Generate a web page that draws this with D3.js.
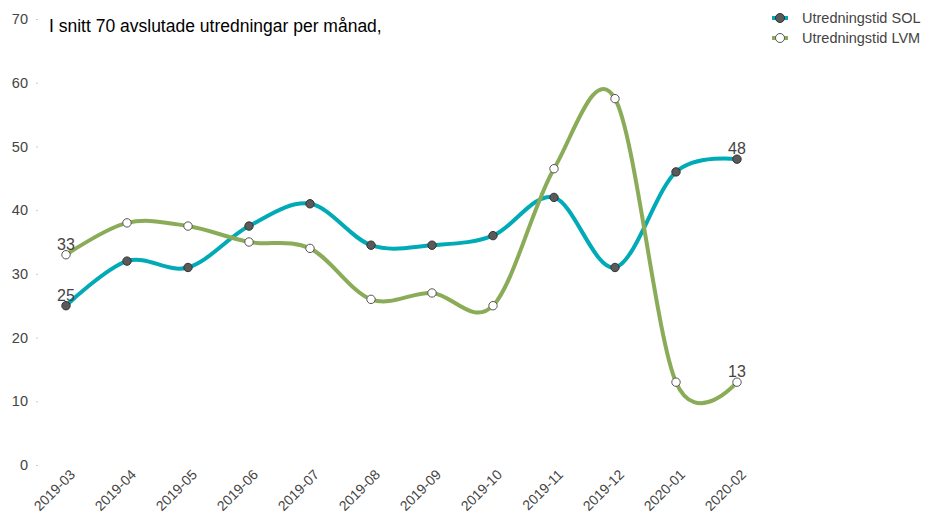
<!DOCTYPE html>
<html>
<head>
<meta charset="utf-8">
<script src="https://cdn.jsdelivr.net/npm/d3@7"></script>
<style>
  body { margin: 0; background: #fff; }
  svg { font-family: "Liberation Sans", Arial, sans-serif; }
</style>
</head>
<body>
<div id="chart"></div>
<script>
// data
const manader = ["2019-03","2019-04","2019-05","2019-06","2019-07","2019-08",
                 "2019-09","2019-10","2019-11","2019-12","2020-01","2020-02"];
const sol = [25, 32, 31, 37.5, 41, 34.5, 34.5, 36, 42, 31, 46, 48];
const lvm = [33, 38, 37.5, 35, 34, 26, 27, 25, 46.5, 57.5, 13, 13];
const yTicks = [0, 10, 20, 30, 40, 50, 60, 70];
const titel = "I snitt 70 avslutade utredningar per månad,";

const serier = [
  { namn: "Utredningstid SOL", varden: sol, farg: "#00aab6", fyll: "#5a5a5a", kant: "#333" },
  { namn: "Utredningstid LVM", varden: lvm, farg: "#8aac58", fyll: "#fff", kant: "#555" }
];

const bredd = 935, hojd = 517;
const margin = { top: 19, right: 198, bottom: 52, left: 66 };

const svg = d3.select("#chart").append("svg")
  .attr("width", bredd).attr("height", hojd)
  .attr("viewBox", [0, 0, bredd, hojd]);

const x = d3.scalePoint(manader, [margin.left, bredd - margin.right]);
const y = d3.scaleLinear([0, 70], [hojd - margin.bottom, margin.top]);

// y-axel
svg.append("g")
  .attr("transform", `translate(38,0)`)
  .call(d3.axisLeft(y).tickValues(yTicks).tickSize(2).tickPadding(8))
  .call(g => g.select(".domain").remove())
  .call(g => g.selectAll(".tick line").attr("stroke", "#ccc"))
  .call(g => g.selectAll(".tick text").attr("fill", "#444").attr("font-size", 14.5));

// x-axel
svg.append("g")
  .attr("transform", `translate(0,${hojd - margin.bottom})`)
  .call(d3.axisBottom(x).tickSize(0).tickPadding(0))
  .call(g => g.select(".domain").remove())
  .call(g => g.selectAll(".tick text")
    .attr("fill", "#444")
    .attr("font-size", 14)
    .attr("text-anchor", "end")
    .attr("y", 0)
    .attr("dy", "0.35em")
    .attr("transform", "translate(6,7) rotate(-45)"));

// linjer
const linje = d3.line()
  .x((d, i) => x(manader[i]))
  .y(d => y(d))
  .curve(d3.curveCardinal.tension(0));

serier.forEach(s => {
  svg.append("path")
    .attr("d", linje(s.varden))
    .attr("fill", "none")
    .attr("stroke", s.farg)
    .attr("stroke-width", 4)
    .attr("stroke-linejoin", "round");
});

serier.forEach(s => {
  svg.append("g")
    .selectAll("circle")
    .data(s.varden)
    .join("circle")
      .attr("cx", (d, i) => x(manader[i]))
      .attr("cy", d => y(d))
      .attr("r", 4.2)
      .attr("fill", s.fyll)
      .attr("stroke", s.kant)
      .attr("stroke-width", 1);

  // etiketter forsta och sista punkt
  const sista = s.varden.length - 1;
  svg.append("g")
    .attr("fill", "#444")
    .attr("font-size", 16)
    .attr("text-anchor", "middle")
    .selectAll("text")
    .data([0, sista])
    .join("text")
      .attr("x", i => x(manader[i]))
      .attr("y", i => y(s.varden[i]) - 5)
      .text(i => s.varden[i]);
});

// titel
svg.append("text")
  .attr("x", 49).attr("y", 32)
  .attr("font-size", 17.5)
  .attr("fill", "#000")
  .text(titel);

// legend
const legend = svg.append("g").attr("transform", "translate(772,18)");
serier.forEach((s, i) => {
  const g = legend.append("g").attr("transform", `translate(0,${i * 20})`);
  g.append("line").attr("x1", 0).attr("x2", 16)
    .attr("stroke", s.farg).attr("stroke-width", 4);
  g.append("circle").attr("cx", 8).attr("r", 4.5)
    .attr("fill", s.fyll).attr("stroke", s.kant);
  g.append("text").attr("x", 30).attr("dy", "0.35em")
    .attr("font-size", 14.5).attr("fill", "#444")
    .text(s.namn);
});
</script>
</body>
</html>
